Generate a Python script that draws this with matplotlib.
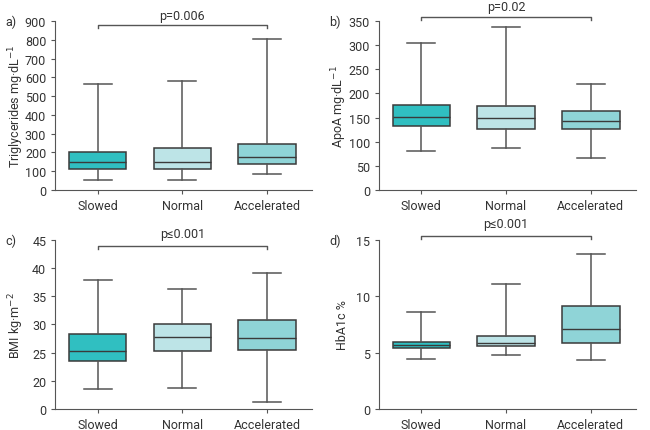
import numpy as np
import matplotlib
matplotlib.use('Agg')
import matplotlib.pyplot as plt

plt.rcParams['font.family'] = ['Roboto', 'DejaVu Sans']
plt.rcParams['text.color'] = '#333333'
plt.rcParams['axes.labelcolor'] = '#333333'
plt.rcParams['xtick.color'] = '#333333'
plt.rcParams['ytick.color'] = '#333333'

groups = ['Slowed', 'Normal', 'Accelerated']
colors = ['#30bfc1', '#bde4e7', '#8fd4d7']

# (whisker low, q1, median, q3, whisker high) per group
trig = [[55, 110, 148, 201, 565], [55, 110, 148, 221, 580], [85, 137, 178, 245, 805]]
apoa = [[80, 132, 152, 176, 305], [86, 127, 148, 173, 338], [67, 127, 142, 163, 220]]
bmi = [[18.5, 23.5, 25.3, 28.3, 37.9], [18.7, 25.2, 27.8, 30.1, 36.2], [16.3, 25.4, 27.5, 30.85, 39.2]]
hba1c = [[4.43, 5.44, 5.7, 5.91, 8.56], [4.75, 5.62, 5.85, 6.45, 11.08], [4.31, 5.88, 7.07, 9.15, 13.73]]

panels = [
    dict(data=trig, label='a)', ylabel='Triglycerides mg·dL$^{-1}$', ylim=(0, 900),
         ticks=np.arange(0, 901, 100), ticklabels=None, p='p=0.006', bar=877, drop=17, ptxt=897),
    dict(data=apoa, label='b)', ylabel='ApoA mg·dL$^{-1}$', ylim=(0, 350),
         ticks=np.arange(0, 351, 50), ticklabels=None, p='p=0.02', bar=359, drop=7, ptxt=366),
    dict(data=bmi, label='c)', ylabel='BMI kg·m$^{-2}$', ylim=(15, 45),
         ticks=np.arange(15, 46, 5), ticklabels=['0', '20', '25', '30', '35', '40', '45'],
         p='p≤0.001', bar=43.9, drop=0.5, ptxt=44.9),
    dict(data=hba1c, label='d)', ylabel='HbA1c %', ylim=(0, 15),
         ticks=[0, 5, 10, 15], ticklabels=None, p='p≤0.001', bar=15.36, drop=0.3, ptxt=15.85),
]

positions = [(0.085, 0.557), (0.583, 0.557), (0.085, 0.049), (0.583, 0.049)]
fig = plt.figure(figsize=(6.5, 4.31), dpi=100)

for pan, (left, bottom) in zip(panels, positions):
    ax = fig.add_axes([left, bottom, 0.395, 0.392])
    stats = []
    for g, d in zip(groups, pan['data']):
        stats.append(dict(label=g, whislo=d[0], q1=d[1], med=d[2], q3=d[3], whishi=d[4], fliers=[]))
    bp = ax.bxp(stats, positions=[0, 1, 2], widths=0.68, patch_artist=True, showfliers=False,
                capwidths=0.33,
                boxprops=dict(edgecolor='#3a3a3a', linewidth=1.1),
                medianprops=dict(color='#3a3a3a', linewidth=1.0),
                whiskerprops=dict(color='#555555', linewidth=1.1),
                capprops=dict(color='#555555', linewidth=1.1))
    for patch, c in zip(bp['boxes'], colors):
        patch.set_facecolor(c)
    ax.set_xlim(-0.5, 2.53)
    ax.set_ylim(*pan['ylim'])
    ax.set_yticks(pan['ticks'])
    if pan['ticklabels'] is not None:
        ax.set_yticklabels(pan['ticklabels'])
    ax.set_xticks([0, 1, 2])
    ax.set_xticklabels(groups)
    ax.tick_params(labelsize=9, length=3, color='#555555')
    for s in ['top', 'right']:
        ax.spines[s].set_visible(False)
    for s in ['left', 'bottom']:
        ax.spines[s].set_color('#555555')
    ax.set_ylabel(pan['ylabel'], fontsize=9)
    ax.yaxis.set_label_coords(-0.115, 0.5)
    # significance bracket
    b, dr = pan['bar'], pan['drop']
    ax.plot([0, 0, 2, 2], [b - dr, b, b, b - dr], color='#555555', lw=1.0, clip_on=False)
    ax.text(1, pan['ptxt'], pan['p'], ha='center', va='bottom', fontsize=9)
    ax.text(-0.195, 1.0, pan['label'], transform=ax.transAxes, fontsize=9, va='center', ha='left')

fig.savefig('out.png', dpi=100)
